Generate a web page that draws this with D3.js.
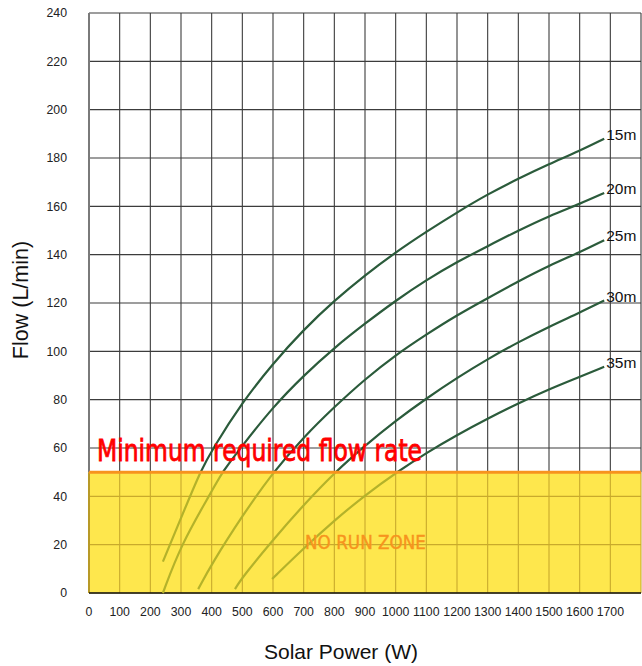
<!DOCTYPE html>
<html>
<head>
<meta charset="utf-8">
<script src="https://cdn.jsdelivr.net/npm/d3@7"></script>
<style>
  html, body { margin: 0; padding: 0; background: #ffffff; }
  svg { display: block; }
</style>
</head>
<body>
<div id="chart"></div>
<script>
// ---- Data ----
const xTicks = [0,100,200,300,400,500,600,700,800,900,1000,1100,1200,1300,1400,1500,1600,1700];
const yTicks = [0,20,40,60,80,100,120,140,160,180,200,220,240];
const seriesNames = ["15m","20m","25m","30m","35m"];

const power15 = [241,300,362,400,500,600,700,800,900,1000,1100,1200,1300,1400,1500,1600,1680];
const flow15  = [13,31,50,59,79,95,109,121,131.5,141,149.5,157.5,165,171.5,177.5,183,188];

const power20 = [241,300,400,434,500,600,700,800,900,1000,1100,1200,1300,1400,1500,1600,1680];
const flow20  = [0,20,42,50,61,77,90,101.5,111.5,121,129.5,137,143.5,150,156,161,165.5];

const power25 = [356,400,500,600,700,800,900,1000,1100,1200,1300,1400,1500,1600,1680];
const flow25  = [1.6,12,32,50,64.5,77,88.5,98.5,107,115,122,129,135.5,141,146];

const power30 = [476,500,600,700,802,900,1000,1100,1200,1300,1400,1500,1600,1680];
const flow30  = [1.6,6.5,22,36.5,50,61,71.3,80.5,89,96.8,103.8,110.2,116,121];

const power35 = [597,700,800,900,1004,1100,1200,1300,1400,1500,1600,1680];
const flow35  = [5.8,18.5,30,40.5,50,58,65.4,72.2,78.5,84.3,89.4,93.6];

const minFlow = 50;
const xMax = 1800, yMax = 240;

// ---- Layout ----
const W = 642, H = 666;
const plot = { left: 89, right: 641, top: 13, bottom: 593 };

const svg = d3.select("#chart").append("svg")
  .attr("width", W).attr("height", H);

const x = d3.scaleLinear().domain([0, xMax]).range([plot.left, plot.right]);
const y = d3.scaleLinear().domain([0, yMax]).range([plot.bottom, plot.top]);

const fontMain = "'Liberation Sans', Arial, Helvetica, sans-serif";
const fontNarrow = "'Liberation Sans Narrow', 'DejaVu Sans Condensed', 'Roboto Condensed', 'Liberation Sans', sans-serif";

const defs = svg.append("defs");
defs.append("clipPath").attr("id", "clipAbove")
  .append("rect")
  .attr("x", 0).attr("y", 0)
  .attr("width", W).attr("height", y(minFlow));
defs.append("clipPath").attr("id", "clipBelow")
  .append("rect")
  .attr("x", 0).attr("y", y(minFlow))
  .attr("width", W).attr("height", H - y(minFlow));

// No-run zone fill
svg.append("rect")
  .attr("x", x(0)).attr("y", y(minFlow))
  .attr("width", x(xMax) - x(0))
  .attr("height", y(0) - y(minFlow))
  .attr("fill", "#fee74d");

// Grid helper
function drawGrid(g, color) {
  const xs = d3.range(0, xMax + 1, 100);
  const ys = d3.range(0, yMax + 1, 20);
  g.selectAll("line.v").data(xs).join("line").attr("class", "v")
    .attr("x1", d => x(d)).attr("x2", d => x(d))
    .attr("y1", y(0)).attr("y2", y(yMax))
    .attr("stroke", color).attr("stroke-width", 1.1);
  g.selectAll("line.h").data(ys).join("line").attr("class", "h")
    .attr("x1", x(0)).attr("x2", x(xMax))
    .attr("y1", d => y(d)).attr("y2", d => y(d))
    .attr("stroke", color).attr("stroke-width", 1.1);
}
drawGrid(svg.append("g").attr("clip-path", "url(#clipAbove)"), "#3c3c3c");
drawGrid(svg.append("g").attr("clip-path", "url(#clipBelow)"), "#c9aa2c");

// left border grayish, bottom axis black
svg.append("line")
  .attr("x1", x(0)).attr("x2", x(0))
  .attr("y1", y(yMax)).attr("y2", y(minFlow))
  .attr("stroke", "#7a7a7a").attr("stroke-width", 2);
svg.append("line")
  .attr("x1", x(0)).attr("x2", x(0))
  .attr("y1", y(minFlow)).attr("y2", y(0))
  .attr("stroke", "#b89a28").attr("stroke-width", 2);
svg.append("line")
  .attr("x1", x(0)).attr("x2", x(xMax))
  .attr("y1", y(0)).attr("y2", y(0))
  .attr("stroke", "#111").attr("stroke-width", 1.5);

// Curves
const series = [
  { name: seriesNames[0], p: power15, f: flow15 },
  { name: seriesNames[1], p: power20, f: flow20 },
  { name: seriesNames[2], p: power25, f: flow25 },
  { name: seriesNames[3], p: power30, f: flow30 },
  { name: seriesNames[4], p: power35, f: flow35 }
];
const line = d3.line()
  .x(d => x(d[0])).y(d => y(d[1]))
  .curve(d3.curveBasis);

const gAbove = svg.append("g").attr("clip-path", "url(#clipAbove)");
const gBelow = svg.append("g").attr("clip-path", "url(#clipBelow)");
series.forEach(s => {
  const pts = s.p.map((v, i) => [v, s.f[i]]);
  gAbove.append("path").attr("d", line(pts))
    .attr("fill", "none").attr("stroke", "#2b5b3b").attr("stroke-width", 2.2);
  gBelow.append("path").attr("d", line(pts))
    .attr("fill", "none").attr("stroke", "#b4b22a").attr("stroke-width", 2.2);
  const lp = s.p[s.p.length - 1], lf = s.f[s.f.length - 1];
  svg.append("text")
    .attr("x", x(lp) + 2).attr("y", y(lf) + 1)
    .attr("font-family", fontMain).attr("font-size", 15.5)
    .attr("fill", "#111")
    .text(s.name);
});

// Minimum flow line
svg.append("line")
  .attr("x1", x(0)).attr("x2", x(xMax))
  .attr("y1", y(minFlow)).attr("y2", y(minFlow))
  .attr("stroke", "#f7931e").attr("stroke-width", 3);

// Annotation texts
svg.append("text")
  .attr("x", 97).attr("y", 461)
  .attr("font-family", fontNarrow).attr("font-size", 30)
  .attr("fill", "#ff0000").attr("stroke", "#ff0000").attr("stroke-width", 0.8)
  .attr("textLength", 325).attr("lengthAdjust", "spacingAndGlyphs")
  .text("Minimum required flow rate");

svg.append("text")
  .attr("x", 305).attr("y", 549)
  .attr("font-family", fontNarrow).attr("font-size", 19.5)
  .attr("fill", "#f7941d").attr("stroke", "#f7941d").attr("stroke-width", 0.4)
  .attr("textLength", 121).attr("lengthAdjust", "spacingAndGlyphs")
  .text("NO RUN ZONE");

// Tick labels
svg.append("g").selectAll("text").data(yTicks).join("text")
  .attr("x", 67).attr("y", d => y(d)).attr("dy", "0.35em")
  .attr("text-anchor", "end")
  .attr("font-family", fontMain).attr("font-size", 12.3).attr("fill", "#222")
  .text(d => d);

svg.append("g").selectAll("text").data(xTicks).join("text")
  .attr("x", d => x(d)).attr("y", 615.5)
  .attr("text-anchor", "middle")
  .attr("font-family", fontMain).attr("font-size", 12.3).attr("fill", "#222")
  .text(d => d);

// Axis titles
svg.append("text")
  .attr("transform", "translate(28,300) rotate(-90)")
  .attr("text-anchor", "middle")
  .attr("font-family", fontMain).attr("font-size", 21.5).attr("fill", "#111")
  .text("Flow (L/min)");

svg.append("text")
  .attr("x", 341).attr("y", 659)
  .attr("text-anchor", "middle")
  .attr("font-family", fontMain).attr("font-size", 21).attr("fill", "#111")
  .text("Solar Power (W)");
</script>
</body>
</html>
